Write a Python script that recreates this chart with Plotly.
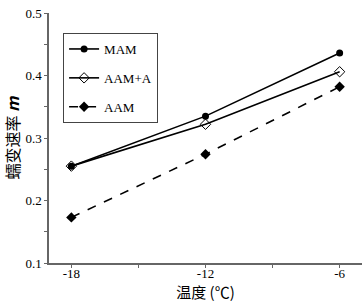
import plotly.graph_objects as go

temps = [-18, -12, -6]
mam = [0.255, 0.335, 0.436]
aam_a = [0.255, 0.322, 0.406]
aam = [0.173, 0.274, 0.382]
x_ticks = [-18, -12, -6]
y_ticks = [0.1, 0.2, 0.3, 0.4, 0.5]

serif = "Times New Roman"

fig = go.Figure()
fig.add_trace(go.Scatter(x=temps, y=mam, name="MAM", mode="lines+markers",
                         line=dict(color="black", width=1.6),
                         marker=dict(symbol="circle", size=7, color="black"),
                         legendgroup="a"))
fig.add_trace(go.Scatter(x=temps, y=aam_a, name="AAM+A", mode="lines+markers",
                         line=dict(color="black", width=1.6),
                         marker=dict(symbol="diamond-open", size=8, color="black",
                                     line=dict(width=1)),
                         legendgroup="b"))
fig.add_trace(go.Scatter(x=temps, y=aam, name="AAM", mode="lines+markers",
                         line=dict(color="black", width=1.6, dash="dash"),
                         marker=dict(symbol="diamond", size=8, color="black"),
                         legendgroup="c"))

axis_common = dict(showline=True, linecolor="#666", linewidth=1.5, ticks="outside",
                   tickcolor="#666", ticklen=3, tickwidth=1.2, showgrid=False,
                   zeroline=False, tickfont=dict(family=serif, size=13, color="black"))

fig.update_layout(
    width=362, height=306,
    margin=dict(l=49, r=0, t=13, b=43),
    plot_bgcolor="white", paper_bgcolor="white",
    showlegend=True,
    legend=dict(x=0.045, y=0.92, xanchor="left", yanchor="top",
                bordercolor="#444", borderwidth=1, bgcolor="white",
                font=dict(family=serif, size=13, color="black"),
                tracegroupgap=9, itemwidth=30),
    xaxis=dict(range=[-19, -5], tickvals=x_ticks, ticktext=[str(v) for v in x_ticks],
               ticklabelstandoff=-5,
               minor=dict(dtick=3, tick0=-18, ticks="outside", ticklen=3, tickcolor="#666"),
               title=dict(text="温度 (℃)", font=dict(family="Noto Sans CJK SC", size=15, color="black"),
                          standoff=0),
               **axis_common),
    yaxis=dict(range=[0.1, 0.5], tickvals=y_ticks, tickformat=".1f",
               minor=dict(dtick=0.05, tick0=0.1, ticks="outside", ticklen=3, tickcolor="#666"),
               title=dict(text="蠕变速率 <b><i>m</i></b>",
                          font=dict(family="Noto Sans CJK SC", size=16, color="black"),
                          standoff=8),
               **axis_common),
)

fig.write_html("out.html", config={"displayModeBar": False},
               post_script="document.body.style.margin='0';")
